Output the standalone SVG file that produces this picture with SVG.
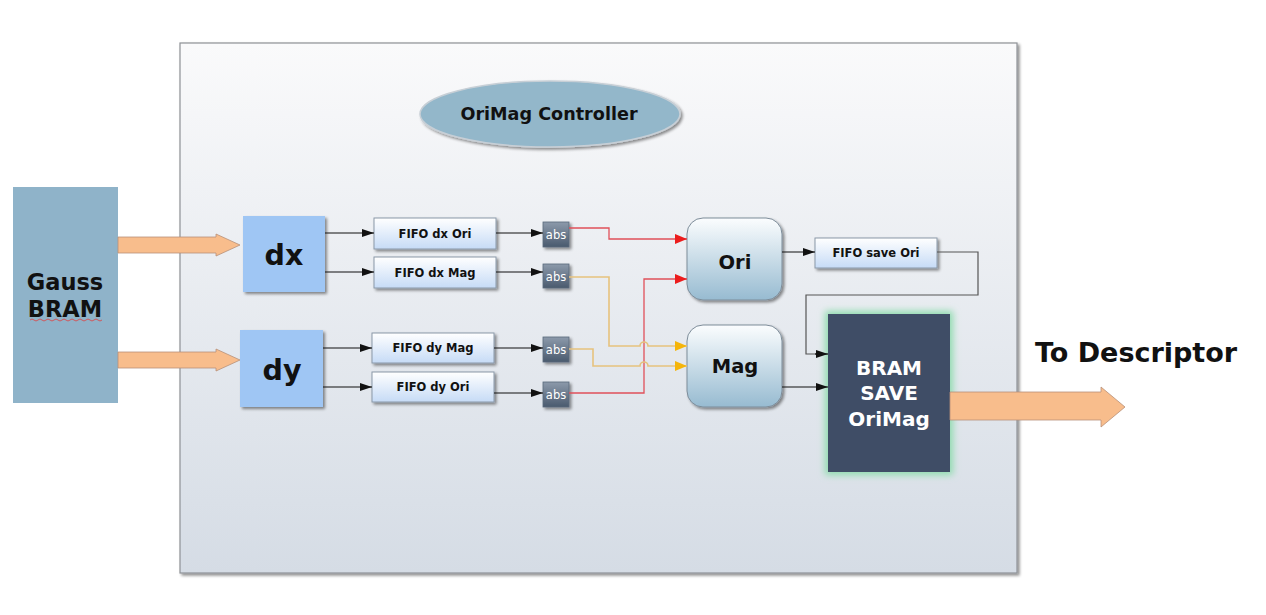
<svg xmlns="http://www.w3.org/2000/svg" width="1266" height="615" viewBox="0 0 1266 615">
<defs>
<style>
text{font-family:"DejaVu Sans","Verdana",sans-serif;font-weight:bold;text-anchor:middle;fill:#111}
.fifo{fill:url(#gFifo);stroke:#8a98a8;stroke-width:1}
.fifoT{font-size:11.5px}
.abs{fill:url(#gAbs);stroke:#5a6a7c;stroke-width:0.8}
.absT{font-size:11.5px;font-weight:normal;fill:#fff}
.blk{fill:none;stroke:#111;stroke-width:1.2;marker-end:url(#mB)}
.gry{fill:none;stroke:#555;stroke-width:1.2}
.red{fill:none;stroke:#e0505a;stroke-width:1.3}
.yel{fill:none;stroke:#e6c27e;stroke-width:1.6}
.fat{fill:#f8bd8c;stroke:#b89078;stroke-width:0.8}
.wt{fill:#fff}
</style>
<linearGradient id="gBg" x1="0" y1="0" x2="0" y2="1"><stop offset="0" stop-color="#fafafb"/><stop offset="1" stop-color="#d5dce5"/></linearGradient>
<linearGradient id="gFifo" x1="0" y1="0" x2="0" y2="1"><stop offset="0" stop-color="#ffffff"/><stop offset="1" stop-color="#c6dbf6"/></linearGradient>
<linearGradient id="gAbs" x1="0" y1="0" x2="0" y2="1"><stop offset="0" stop-color="#8c9aab"/><stop offset="1" stop-color="#4a5a6e"/></linearGradient>
<linearGradient id="gOM" x1="0" y1="0" x2="0" y2="1"><stop offset="0" stop-color="#fbfdfe"/><stop offset="1" stop-color="#97bbd1"/></linearGradient>
<filter id="sh" x="-20%" y="-20%" width="150%" height="150%"><feGaussianBlur in="SourceAlpha" stdDeviation="1.5"/><feOffset dx="2" dy="2" result="b"/><feComponentTransfer><feFuncA type="linear" slope="0.45"/></feComponentTransfer><feMerge><feMergeNode/><feMergeNode in="SourceGraphic"/></feMerge></filter>
<filter id="blur" x="-20%" y="-20%" width="140%" height="140%"><feGaussianBlur stdDeviation="3.5"/></filter>
<marker id="mB" viewBox="0 0 12 8" refX="12" refY="4" markerWidth="12" markerHeight="8" markerUnits="userSpaceOnUse" orient="auto"><path d="M0,0 L12,4 L0,8 Z" fill="#111"/></marker>
<marker id="mR" viewBox="0 0 12 10" refX="12" refY="5" markerWidth="12" markerHeight="10" markerUnits="userSpaceOnUse" orient="auto"><path d="M0,0 L12,5 L0,10 Z" fill="#ec1c1c"/></marker>
<marker id="mY" viewBox="0 0 12 10" refX="12" refY="5" markerWidth="12" markerHeight="10" markerUnits="userSpaceOnUse" orient="auto"><path d="M0,0 L12,5 L0,10 Z" fill="#f5b50a"/></marker>
</defs>
<rect width="1266" height="615" fill="#ffffff"/>

<g id="container">
<rect x="180" y="43" width="837" height="530" fill="url(#gBg)" stroke="#8e9196" stroke-width="1.2" filter="url(#sh)"/>
</g>

<g id="controller">
<ellipse cx="550" cy="114" rx="130" ry="33" fill="#93b7ca" stroke="#c7cfd6" stroke-width="1.5" filter="url(#sh)"/>
<text x="549" y="120" font-size="17.6">OriMag Controller</text>
</g>

<g id="gauss">
<rect x="13" y="187" width="105" height="216" fill="#8fb3c9"/>
<text x="65" y="290" font-size="22.5">Gauss</text>
<text x="65" y="317" font-size="22.5">BRAM</text>
<path d="M30,320 q2,-2 4,0 t4,0 t4,0 t4,0 t4,0 t4,0 t4,0 t4,0 t4,0 t4,0 t4,0 t4,0 t4,0 t4,0 t4,0 t4,0 t4,0 t4,0" fill="none" stroke="#e04040" stroke-width="0.8"/>
</g>

<g id="dx">
<rect x="243" y="216" width="82" height="76" fill="#9fc6f4" filter="url(#sh)"/>
<text x="284" y="265" font-size="28.5">dx</text>
</g>
<g id="dy">
<rect x="240" y="330" width="83" height="77" fill="#9fc6f4" filter="url(#sh)"/>
<text x="282" y="380" font-size="28.5">dy</text>
</g>

<g id="fifo-dx-ori"><rect class="fifo" x="374" y="218" width="122" height="31" filter="url(#sh)"/><text class="fifoT" x="435" y="238">FIFO dx Ori</text></g>
<g id="fifo-dx-mag"><rect class="fifo" x="374" y="257" width="122" height="31" filter="url(#sh)"/><text class="fifoT" x="435" y="277">FIFO dx Mag</text></g>
<g id="fifo-dy-mag"><rect class="fifo" x="372" y="333" width="122" height="30" filter="url(#sh)"/><text class="fifoT" x="433" y="352">FIFO dy Mag</text></g>
<g id="fifo-dy-ori"><rect class="fifo" x="372" y="372" width="122" height="30" filter="url(#sh)"/><text class="fifoT" x="433" y="391">FIFO dy Ori</text></g>

<g id="abs1"><rect class="abs" x="543" y="222" width="26" height="25" filter="url(#sh)"/><text class="absT" x="556" y="239">abs</text></g>
<g id="abs2"><rect class="abs" x="543" y="264" width="26" height="24" filter="url(#sh)"/><text class="absT" x="556" y="281">abs</text></g>
<g id="abs3"><rect class="abs" x="543" y="337" width="26" height="25" filter="url(#sh)"/><text class="absT" x="556" y="354">abs</text></g>
<g id="abs4"><rect class="abs" x="543" y="382" width="26" height="25" filter="url(#sh)"/><text class="absT" x="556" y="399">abs</text></g>

<g id="ori"><rect x="687" y="218" width="95" height="82" rx="16" fill="url(#gOM)" stroke="#7d8c99" stroke-width="1" filter="url(#sh)"/><text x="735" y="269" font-size="19.5">Ori</text></g>
<g id="mag"><rect x="687" y="325" width="95" height="82" rx="16" fill="url(#gOM)" stroke="#7d8c99" stroke-width="1" filter="url(#sh)"/><text x="735" y="373" font-size="19.5">Mag</text></g>

<g id="fifo-save-ori"><rect class="fifo" x="815" y="238" width="122" height="30" filter="url(#sh)"/><text class="fifoT" x="876" y="257">FIFO save Ori</text></g>

<g id="bram-save">
<rect x="825" y="311" width="128" height="164" fill="#8fdcae" filter="url(#blur)"/>
<rect x="828" y="314" width="122" height="158" fill="#3f4d66"/>
<text class="wt" x="889" y="375" font-size="20">BRAM</text>
<text class="wt" x="889" y="400" font-size="20">SAVE</text>
<text class="wt" x="889" y="426" font-size="20">OriMag</text>
</g>

<g id="to-descriptor">
<text x="1136" y="362" font-size="27">To Descriptor</text>
</g>

<g id="connectors">
<path class="fat" d="M118,237 L216,237 L216,234 L240,245 L216,256 L216,253 L118,253 Z"/>
<path class="fat" d="M118,352 L216,352 L216,349 L240,360 L216,371 L216,368 L118,368 Z"/>
<path class="fat" d="M950,392 L1101,392 L1101,387 L1125,407 L1101,427 L1101,420 L950,420 Z"/>

<path class="blk" d="M325,233 H374"/>
<path class="blk" d="M325,272 H374"/>
<path class="blk" d="M323,348 H372"/>
<path class="blk" d="M323,387 H372"/>

<path class="blk" d="M496,233 H543"/>
<path class="blk" d="M496,272 H543"/>
<path class="blk" d="M494,348 H543"/>
<path class="blk" d="M494,393 H543"/>

<path class="red" d="M569,228 H609 V239 H687" marker-end="url(#mR)"/>
<path class="red" d="M569,393 H644 V279 H687" marker-end="url(#mR)"/>
<path class="yel" d="M569,277 H609 V346 H640 A4,4 0 0 1 648,346 H687" marker-end="url(#mY)"/>
<path class="yel" d="M569,349 H593 V366 H640 A4,4 0 0 1 648,366 H687" marker-end="url(#mY)"/>

<path class="blk" d="M782,252 H815"/>
<path class="gry" d="M937,252 H978 V295 H806 V354 H816"/>
<path class="blk" d="M815,354 H828"/>
<path class="blk" d="M782,387 H828"/>
</g>
</svg>
